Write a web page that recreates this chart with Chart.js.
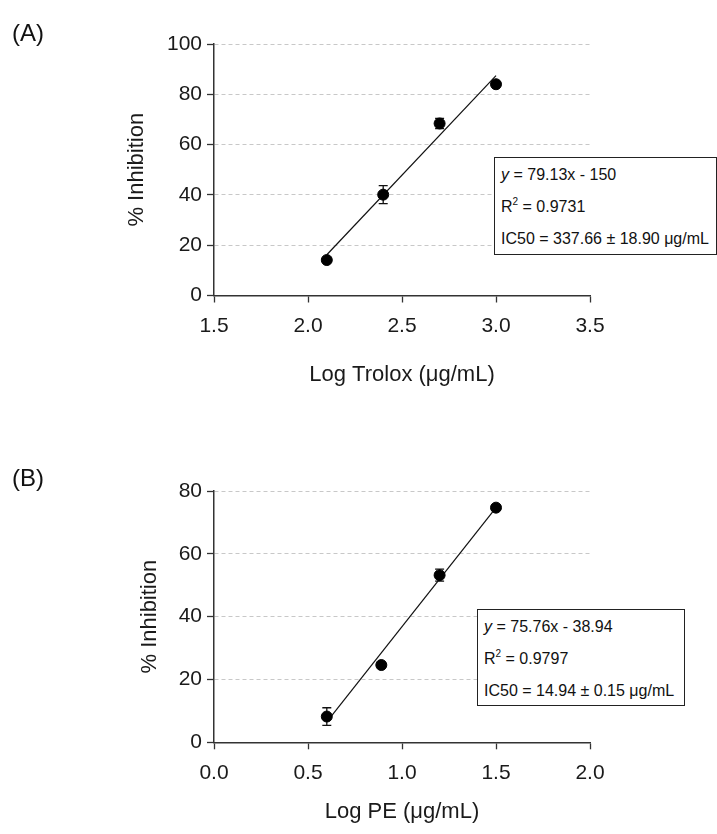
<!DOCTYPE html>
<html lang="en">
<head>
<meta charset="UTF-8">
<title>% Inhibition vs log concentration</title>
<script src="https://cdn.jsdelivr.net/npm/chart.js@4.4.1/dist/chart.umd.min.js"></script>
<style>
  body { margin: 0; background: #fff; font-family: "Liberation Sans", Arial, sans-serif; }
  .page { position: relative; width: 717px; height: 834px; overflow: hidden; background: #fff; }
  canvas { position: absolute; left: 0; }
  #chartA { top: 0; }
  #chartB { top: 410px; }
  .panel { position: absolute; left: 12px; font-size: 24px; color: #111; line-height: 1; }
  .eq {
    position: absolute; box-sizing: border-box; background: #fff;
    border: 1.3px solid #222; font-size: 16px; line-height: 32px;
    padding: 1px 6px; color: #111; white-space: nowrap;
  }
  .eq sup { font-size: 10px; vertical-align: 7px; line-height: 0; }
</style>
</head>
<body>
<div class="page">
  <canvas id="chartA" width="717" height="410"></canvas>
  <canvas id="chartB" width="717" height="424"></canvas>

  <div class="panel" style="top:21px">(A)</div>
  <div class="panel" style="top:466px">(B)</div>

  <div class="eq" style="left:494px; top:157px; width:223px; height:98px">
    <div><i>y</i> = 79.13x - 150</div>
    <div>R<sup>2</sup> = 0.9731</div>
    <div>IC50 = 337.66 ± 18.90 μg/mL</div>
  </div>
  <div class="eq" style="left:477px; top:609px; width:208px; height:97px">
    <div><i>y</i> = 75.76x - 38.94</div>
    <div>R<sup>2</sup> = 0.9797</div>
    <div>IC50 = 14.94 ± 0.15 μg/mL</div>
  </div>
</div>

<script>
  // (A) Trolox
  const logTrolox = [2.1, 2.4, 2.7, 3.0];
  const inhibTrolox = [14.1, 40.1, 68.4, 84.0];
  const errTrolox = [0.8, 3.6, 2.0, 0.8];
  const fitTroloxX = [2.1, 3.0];
  const fitTroloxY = [16.2, 87.4];
  const xTicksA = [1.5, 2.0, 2.5, 3.0, 3.5];
  const yTicksA = [0, 20, 40, 60, 80, 100];

  // (B) PE
  const logPE = [0.6, 0.89, 1.2, 1.5];
  const inhibPE = [8.2, 24.6, 53.2, 74.7];
  const errPE = [2.8, 0.8, 1.9, 0.6];
  const fitPEX = [0.6, 1.5];
  const fitPEY = [6.5, 74.7];
  const xTicksB = [0.0, 0.5, 1.0, 1.5, 2.0];
  const yTicksB = [0, 20, 40, 60, 80];

  Chart.defaults.font.family = '"Liberation Sans", Arial, sans-serif';
  Chart.defaults.color = '#1a1a1a';

  function errorBarPlugin(xs, ys, errs) {
    return {
      id: 'errorBars',
      beforeDatasetsDraw(chart) {
        const { ctx, scales: { x, y } } = chart;
        ctx.save();
        ctx.strokeStyle = '#111';
        ctx.lineWidth = 1.3;
        xs.forEach((v, i) => {
          const px = x.getPixelForValue(v);
          const top = y.getPixelForValue(ys[i] + errs[i]);
          const bot = y.getPixelForValue(ys[i] - errs[i]);
          ctx.beginPath();
          ctx.moveTo(px, top); ctx.lineTo(px, bot);
          ctx.moveTo(px - 4.5, top); ctx.lineTo(px + 4.5, top);
          ctx.moveTo(px - 4.5, bot); ctx.lineTo(px + 4.5, bot);
          ctx.stroke();
        });
        ctx.restore();
      }
    };
  }

  function makePanel(id, xs, ys, errs, fitX, fitY, xTicks, yTicks, xTitle, lay) {
    const ctx = document.getElementById(id).getContext('2d');
    return new Chart(ctx, {
      type: 'scatter',
      data: {
        datasets: [
          {
            data: fitX.map((v, i) => ({ x: v, y: fitY[i] })),
            showLine: true,
            borderColor: '#111',
            borderWidth: 1.2,
            pointRadius: 0,
            order: 2
          },
          {
            data: xs.map((v, i) => ({ x: v, y: ys[i] })),
            backgroundColor: '#000',
            borderColor: '#000',
            pointRadius: 5.5,
            order: 1
          }
        ]
      },
      options: {
        responsive: false,
        animation: false,
        layout: { padding: lay.padding },
        plugins: { legend: { display: false }, tooltip: { enabled: false } },
        scales: {
          x: {
            type: 'linear',
            min: xTicks[0],
            max: xTicks[xTicks.length - 1],
            afterBuildTicks: s => { s.ticks = xTicks.map(v => ({ value: v })); },
            afterFit: s => { s.height = lay.xHeight; },
            ticks: {
              padding: 11,
              font: { size: 21 },
              color: '#1a1a1a',
              callback: v => Number(v).toFixed(1)
            },
            grid: {
              drawOnChartArea: false,
              drawTicks: true,
              tickLength: 7,
              tickColor: '#333',
              tickWidth: 1.3
            },
            border: { color: '#333', width: 1.5 },
            title: {
              display: true,
              text: xTitle,
              font: { size: 22 },
              color: '#1a1a1a',
              padding: 0
            }
          },
          y: {
            min: yTicks[0],
            max: yTicks[yTicks.length - 1],
            afterBuildTicks: s => { s.ticks = yTicks.map(v => ({ value: v })); },
            afterFit: s => { s.width = lay.yWidth; },
            ticks: { padding: 5, font: { size: 21 }, color: '#1a1a1a' },
            grid: {
              color: c => (c.tick && c.tick.value === 0) ? 'rgba(0,0,0,0)' : '#c8c8c8',
              lineWidth: 1,
              drawTicks: true,
              tickLength: 7,
              tickColor: '#333',
              tickWidth: 1.3
            },
            border: { color: '#333', width: 1.5, dash: [4, 3] },
            title: {
              display: true,
              text: '% Inhibition',
              font: { size: 22 },
              color: '#1a1a1a',
              padding: 0
            }
          }
        }
      },
      plugins: [errorBarPlugin(xs, ys, errs)]
    });
  }

  makePanel('chartA', logTrolox, inhibTrolox, errTrolox, fitTroloxX, fitTroloxY,
    xTicksA, yTicksA, 'Log Trolox (μg/mL)',
    { padding: { top: 44, left: 124, right: 127, bottom: 22 }, yWidth: 90, xHeight: 92.5 });

  makePanel('chartB', logPE, inhibPE, errPE, fitPEX, fitPEY,
    xTicksB, yTicksB, 'Log PE (μg/mL)',
    { padding: { top: 81, left: 137, right: 127, bottom: 9 }, yWidth: 77, xHeight: 82.7 });
</script>
</body>
</html>
